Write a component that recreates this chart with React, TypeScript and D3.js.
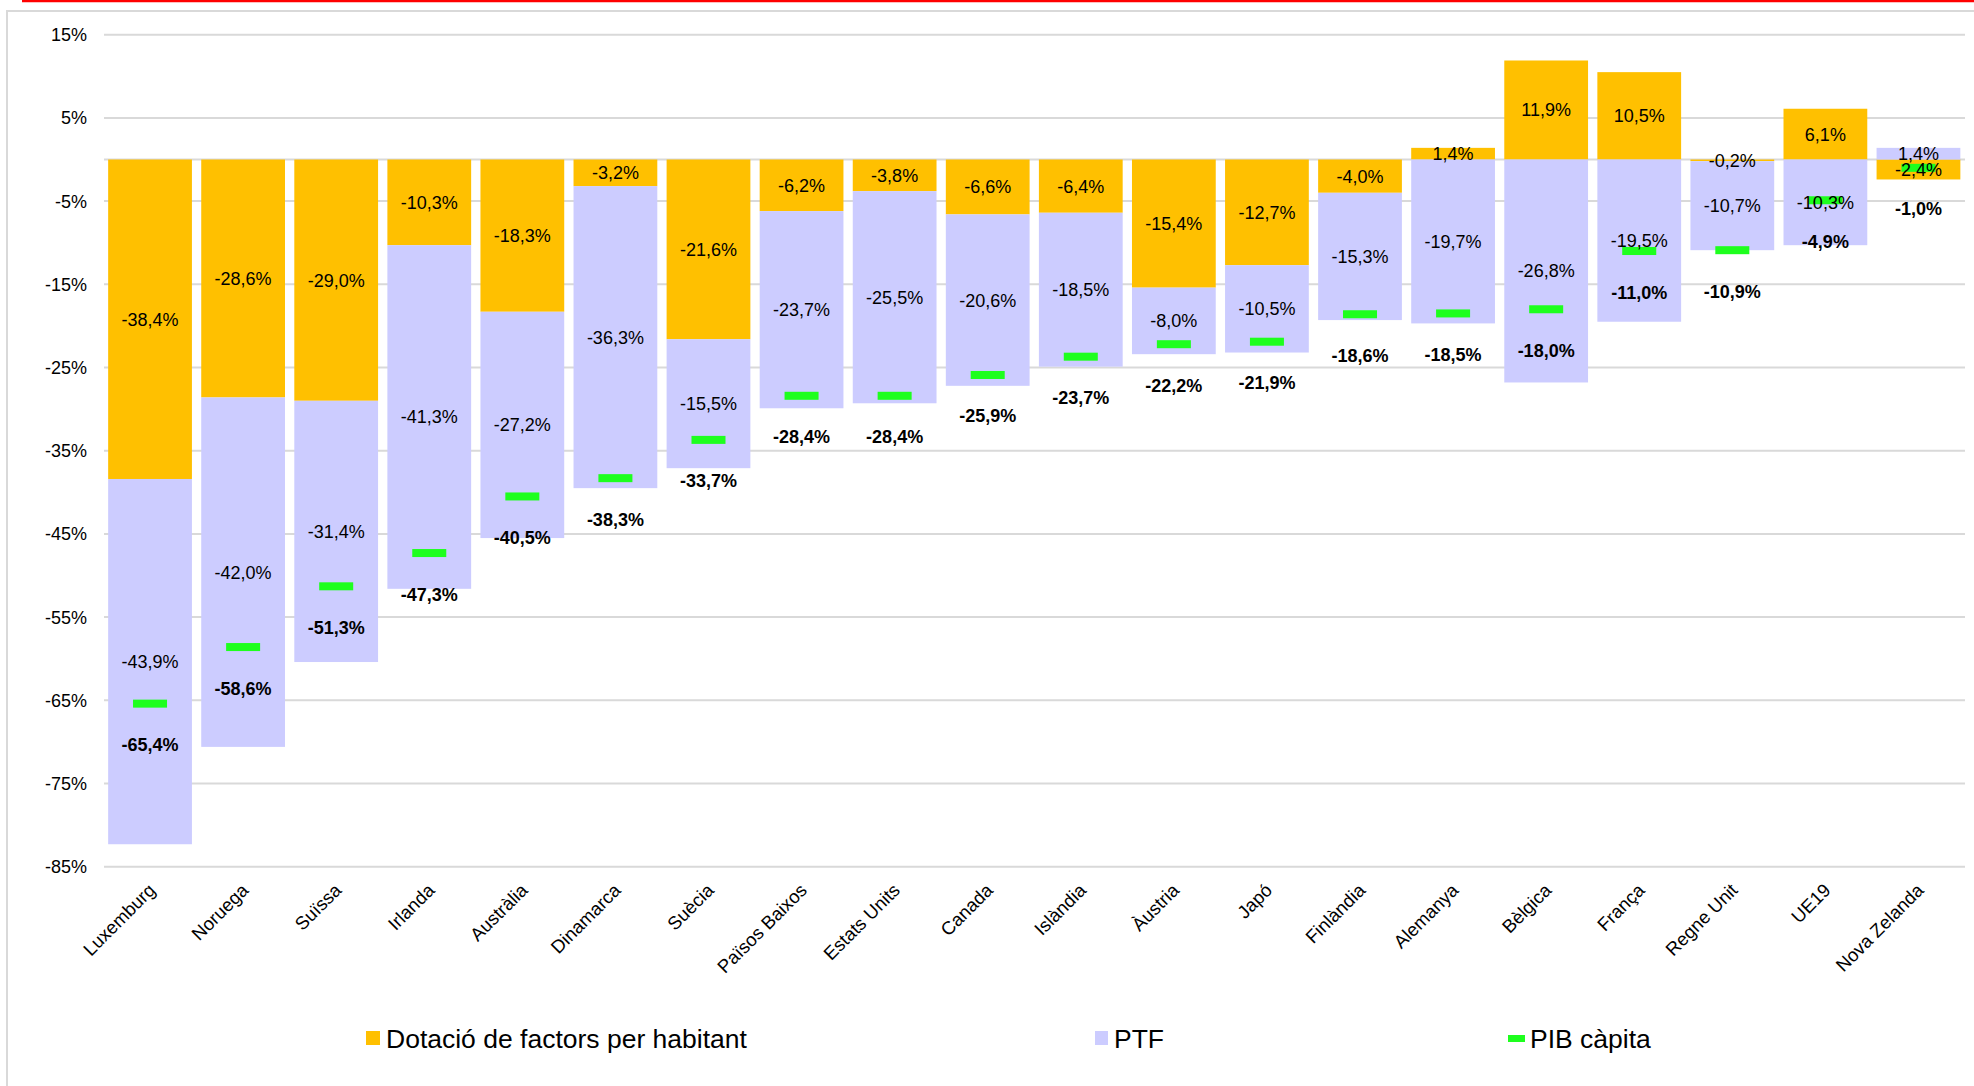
import React from "react";
import * as d3 from "d3";

const categories = [
  "Luxemburg", "Noruega", "Suïssa", "Irlanda", "Austràlia", "Dinamarca", "Suècia",
  "Països Baixos", "Estats Units", "Canada", "Islàndia", "Àustria", "Japó", "Finlàndia",
  "Alemanya", "Bèlgica", "França", "Regne Unit", "UE19", "Nova Zelanda",
];
const dotacio = [-38.4, -28.6, -29.0, -10.3, -18.3, -3.2, -21.6, -6.2, -3.8, -6.6, -6.4, -15.4, -12.7, -4.0, 1.4, 11.9, 10.5, -0.2, 6.1, -2.4];
const ptf = [-43.9, -42.0, -31.4, -41.3, -27.2, -36.3, -15.5, -23.7, -25.5, -20.6, -18.5, -8.0, -10.5, -15.3, -19.7, -26.8, -19.5, -10.7, -10.3, 1.4];
const pib = [-65.4, -58.6, -51.3, -47.3, -40.5, -38.3, -33.7, -28.4, -28.4, -25.9, -23.7, -22.2, -21.9, -18.6, -18.5, -18.0, -11.0, -10.9, -4.9, -1.0];
const yTicks = [15, 5, -5, -15, -25, -35, -45, -55, -65, -75, -85];
const seriesNames = ["Dotació de factors per habitant", "PTF", "PIB càpita"];

const FONT = "'Liberation Sans', Arial, Helvetica, sans-serif";
const ORANGE = "#FFC000";
const LAVENDER = "#CCCCFF";
const GREEN = "#1EFF1E";
const fmt = (v: number) => v.toFixed(1).replace(".", ",") + "%";

export default function App() {
  const W = 1974, H = 1086;
  const x = d3.scaleBand<string>().domain(categories).range([103.5, 1965]).paddingInner(0.1).paddingOuter(0.05);
  const y = d3.scaleLinear().domain([-85, 15]).range([866.7, 34.7]);

  const rows = categories.map((c, i) => ({ cat: c, dot: dotacio[i], ptf: ptf[i] }));
  const stack = d3.stack<any>().keys(["dot", "ptf"]).offset(d3.stackOffsetDiverging);
  const layers = stack(rows);
  const colors = [ORANGE, LAVENDER];
  const bw = x.bandwidth();

  return (
    <svg width={W} height={H} style={{ position: "absolute", left: 0, top: 0, background: "#fff" }} fontFamily={FONT}>
      <rect x={0} y={0} width={W} height={H} fill="#fff" />
      <line x1={22} x2={W} y1={1} y2={1} stroke="#FF0000" strokeWidth={2.5} />
      <rect x={7} y={11} width={W} height={H} fill="none" stroke="#D9D9D9" strokeWidth={2} />

      {yTicks.map((t) => (
        <g key={t}>
          <line x1={104} x2={1965} y1={y(t)} y2={y(t)} stroke="#D9D9D9" strokeWidth={2} />
          <text x={87} y={y(t)} dy="0.36em" textAnchor="end" fontSize={18} fill="#000">{t}%</text>
        </g>
      ))}
      <line x1={104} x2={1965} y1={y(0)} y2={y(0)} stroke="#D9D9D9" strokeWidth={2} />

      {layers.map((layer, li) => (
        <g key={li}>
          {layer.map((d: any, i: number) => (
            <rect key={i} x={x(categories[i])} width={bw}
              y={y(Math.max(d[0], d[1]))} height={Math.abs(y(d[0]) - y(d[1]))}
              fill={colors[li]} />
          ))}
        </g>
      ))}

      {pib.map((v, i) => (
        <rect key={i} x={(x(categories[i]) as number) + bw / 2 - 17} width={34} y={y(v) - 4} height={8} fill={GREEN} />
      ))}

      {layers.map((layer, li) => (
        <g key={"l" + li}>
          {layer.map((d: any, i: number) => {
            const v = li === 0 ? dotacio[i] : ptf[i];
            return (
              <text key={i} x={(x(categories[i]) as number) + bw / 2} y={y((d[0] + d[1]) / 2)} dy="0.36em"
                textAnchor="middle" fontSize={18} fill="#000">{fmt(v)}</text>
            );
          })}
        </g>
      ))}

      {pib.map((v, i) => (
        <text key={i} x={(x(categories[i]) as number) + bw / 2} y={y(v) + 41} dy="0.36em"
          textAnchor="middle" fontSize={18} fontWeight="bold" fill="#000">{fmt(v)}</text>
      ))}

      {categories.map((c) => {
        const cx = (x(c) as number) + bw / 2 - 3;
        return (
          <text key={c} transform={`translate(${cx},${882}) rotate(-45)`} dy="0.72em"
            textAnchor="end" fontSize={18.5} fill="#000">{c}</text>
        );
      })}

      <rect x={366} y={1031} width={14} height={14} fill={ORANGE} />
      <text x={386} y={1048} fontSize={26.5} fill="#000">{seriesNames[0]}</text>
      <rect x={1095} y={1031} width={13} height={14} fill={LAVENDER} />
      <text x={1114} y={1048} fontSize={26.5} fill="#000">{seriesNames[1]}</text>
      <rect x={1508} y={1035} width={17} height={7} fill={GREEN} />
      <text x={1530} y={1048} fontSize={26.5} fill="#000">{seriesNames[2]}</text>
    </svg>
  );
}
